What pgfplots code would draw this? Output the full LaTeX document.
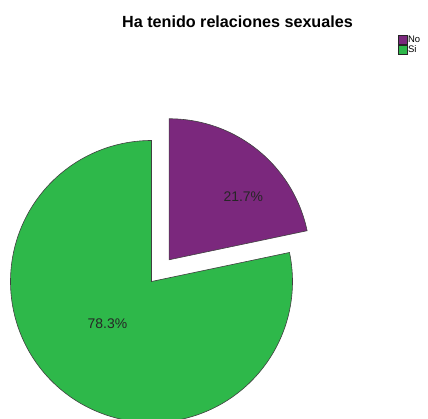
\documentclass[border=0pt]{standalone}
\usepackage{fontspec}
\setmainfont{Liberation Sans}
\usepackage{pgfplots}
\pgfplotsset{compat=1.18}
\definecolor{cNo}{RGB}{123,40,125}
\definecolor{cSi}{RGB}{46,184,74}
% data (percent)
\def\pNo{21.7}
\def\pSi{78.3}
% geometry in pixel units
\def\cx{151.5}
\def\cy{137.5}
\def\R{141}
\pgfmathsetmacro\aNo{90-3.6*\pNo}
\pgfmathsetmacro\aSi{90+3.6*\pSi}
\pgfmathsetmacro\mid{90-1.8*\pNo}
\pgfmathsetmacro\ox{\cx+28*cos(\mid)}
\pgfmathsetmacro\oy{\cy+28*sin(\mid)}
\begin{document}
\begin{tikzpicture}
\begin{axis}[
  scale only axis, width=428bp, height=419bp,
  xmin=0, xmax=428, ymin=0, ymax=419,
  hide axis, clip=true,
  legend style={at={(axis cs:398,384)}, anchor=north west, draw=none, fill=none,
    inner sep=0pt, outer sep=0pt, font=\fontsize{9.5}{10}\selectfont, row sep=0.6bp,
    nodes={inner sep=0.6bp, anchor=west}},
  legend cell align=left,
  legend image code/.code={\draw[#1,draw=black!85,line width=0.5bp] (0bp,-4.5bp) rectangle (9bp,4.5bp);},
]
\addplot[fill=cNo, draw=black!75, line width=0.6bp, domain=\aNo:90, samples=150]
  ({\ox+\R*cos(x)},{\oy+\R*sin(x)}) -- (\ox,\oy) -- cycle;
\addlegendentry{No}
\addplot[fill=cSi, draw=black!75, line width=0.6bp, domain=90:\aSi, samples=300]
  ({\cx+\R*cos(x)},{\cy+\R*sin(x)}) -- (\cx,\cy) -- cycle;
\addlegendentry{Si}
\node[font=\fontsize{14}{16}\selectfont, text=black!85] at (axis cs:243.3,222.5) {21.7\%};
\node[font=\fontsize{14}{16}\selectfont, text=black!85] at (axis cs:107.5,95) {78.3\%};
\node[font=\bfseries\fontsize{16.2}{18}\selectfont] at (axis cs:237.5,397) {Ha tenido relaciones sexuales};
\end{axis}
\pgfresetboundingbox
\path[use as bounding box] (current axis.south west) rectangle (current axis.north east);
\end{tikzpicture}
\end{document}
